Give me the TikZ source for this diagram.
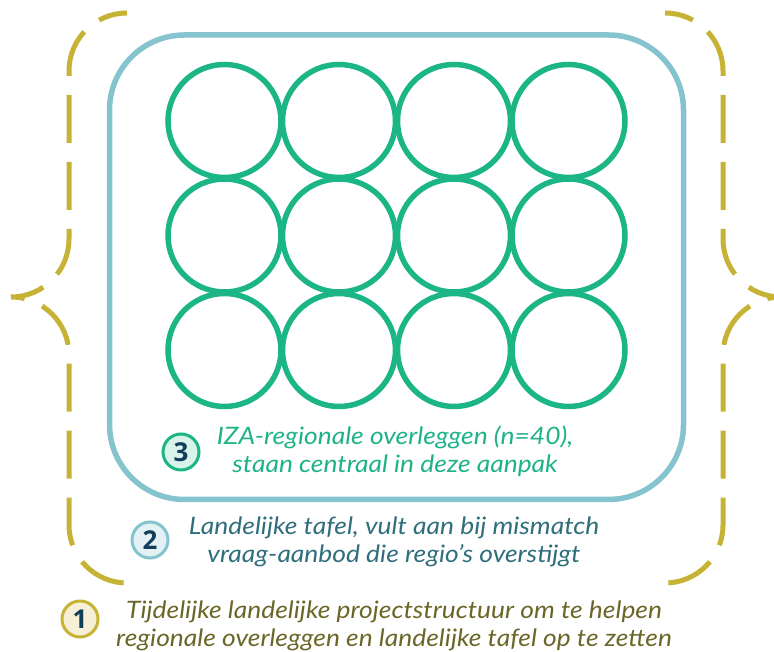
\documentclass[tikz,border=0pt]{standalone}
\usepackage{fontspec}
\setmainfont{Lato}
\newfontfamily\lblfont{Lato}[FakeStretch=1.1]
\newfontfamily\numfont{Open Sans}
\definecolor{cgreen}{HTML}{1CB586}
\definecolor{cblue}{HTML}{85C4CE}
\definecolor{cgold}{HTML}{C6B235}
\definecolor{tgreen}{HTML}{1EB387}
\definecolor{tteal}{HTML}{2F6E7B}
\definecolor{tolive}{HTML}{6B6628}
\definecolor{navy}{HTML}{123E5C}
\definecolor{fgreen}{HTML}{D9F2EA}
\definecolor{fblue}{HTML}{E3F1F4}
\definecolor{fgold}{HTML}{F5F0D6}

\begin{document}
\begin{tikzpicture}[x=1pt,y=1pt,
  ring/.style={circle, draw=cgreen, line width=5.5pt, minimum size=113pt, inner sep=0pt},
  frame/.style={draw=cblue, line width=5.5pt, rounded corners=75pt, inner sep=0pt},
  bracepath/.style={draw=cgold, line width=5pt, dash pattern=on 48pt off 19pt, dash phase=19pt},
  badge/.style={circle, line width=3pt, minimum size=36pt, inner sep=0pt, text=navy,
    font=\numfont\fontsize{26}{26}\selectfont\bfseries},
  lbl/.style={align=center, anchor=base, font=\lblfont\fontsize{24}{28}\selectfont\itshape}
]
\useasboundingbox (0,0) rectangle (774,652);
% outer frame
\node[frame, minimum width=574pt, minimum height=464.5pt] (region) at (396.5,384.75) {};
% circles
\foreach \c/\x in {1/224.5,2/339,3/454,4/568.5}{
  \foreach \r/\y in {1/531,2/416.5,3/302}{
    \node[ring] (ring\r\c) at (\x,\y) {};
  }
}
% braces
\draw[bracepath] (127,639) arc[start angle=90,end angle=180,radius=58pt]
  -- (69,413) arc[start angle=0,end angle=-90,radius=58pt]
  arc[start angle=90,end angle=0,radius=58pt]
  -- (69,127) arc[start angle=180,end angle=270,radius=58pt];
\draw[bracepath] (665,639) arc[start angle=90,end angle=0,radius=58pt]
  -- (723,413) arc[start angle=180,end angle=270,radius=58pt]
  arc[start angle=90,end angle=180,radius=58pt]
  -- (723,127) arc[start angle=0,end angle=-90,radius=58pt];
% badges
\node[badge, draw=cgreen, fill=fgreen] (b3) at (181,200) {3};
\node[badge, draw=cblue, fill=fblue] (b2) at (150,112) {2};
\node[badge, draw=cgold, fill=fgold] (b1) at (80,33) {1};
% labels
\node[lbl, text=tgreen] (t3) at (395,179) {IZA-regionale overleggen (n=40),\\staan centraal in deze aanpak};
\node[lbl, text=tteal] (t2) at (394,89) {Landelijke tafel, vult aan bij mismatch\\vraag-aanbod die regio’s overstijgt};
\node[lbl, text=tolive] (t1) at (394,5) {Tijdelijke landelijke projectstructuur om te helpen\\regionale overleggen en landelijke tafel op te zetten};
\end{tikzpicture}
\end{document}
